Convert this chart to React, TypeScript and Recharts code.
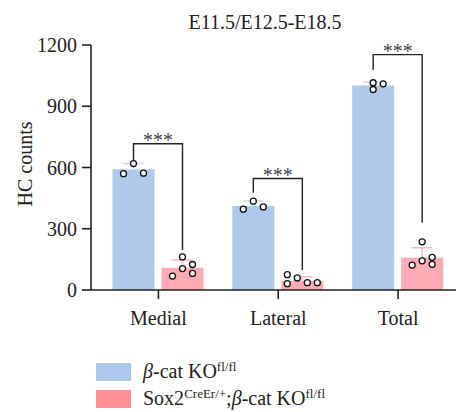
import { Bar, BarChart, Legend, XAxis, YAxis } from "recharts";

const CATEGORIES = ["Medial", "Lateral", "Total"];
const CTRL_MEAN = [591, 412, 1002];
const CTRL_SD = [28, 24, 17];
const MUT_MEAN = [109, 45, 158];
const MUT_SD = [38, 20, 49];
const CTRL_POINTS = [
  [619, 570, 572],
  [435, 396, 407],
  [1015, 982, 1010],
];
const MUT_POINTS = [
  [162, 125, 105, 81, 68],
  [75, 31, 59, 36, 36],
  [236, 122, 143, 160, 126],
];
const Y_TICKS = [0, 300, 600, 900, 1200];

// significance brackets (in HC counts): top line, left leg end, right leg end
const BRACKET_TOP = [716, 546, 1153];
const BRACKET_LEFT = [632, 476, 1079];
const BRACKET_RIGHT = [196, 98, 329];
const SIG = ["***", "***", "***"];

// scatter column slots per dot (prism style), 1 slot = DOT_STEP px
const CTRL_SLOTS = [
  [0, -1, 1],
  [0, -1, 1],
  [0, 0, 1],
];
const MUT_SLOTS = [
  [0, 1, 0, 1, -1],
  [-1.5, -1.5, -0.5, 0.5, 1.5],
  [0, -1, 0, 1, 1],
];

const DOT_STEP = 10;
const BAR_SIZE = 42;
const BAR_GAP = 7;
const FONT = "'Liberation Serif', 'Times New Roman', serif";
const INK = "#222";

const SERIES = {
  ctrl: { fill: "#afc9ea", cap: "#c8dbf3", legend: "#adc8eb" },
  mut: { fill: "#ffabb6", cap: "#ffb3bf", legend: "#ff8e98" },
};

const rows = CATEGORIES.map((name, i) => ({
  name,
  i,
  ctrl: CTRL_MEAN[i],
  mut: MUT_MEAN[i],
}));

const makeShape = (kind: "ctrl" | "mut") => (props: any) => {
  const { x, y, width, height, payload } = props;
  const i = payload.i;
  const mean = kind === "ctrl" ? CTRL_MEAN[i] : MUT_MEAN[i];
  const sd = kind === "ctrl" ? CTRL_SD[i] : MUT_SD[i];
  const pts = kind === "ctrl" ? CTRL_POINTS[i] : MUT_POINTS[i];
  const slots = kind === "ctrl" ? CTRL_SLOTS[i] : MUT_SLOTS[i];
  const s = SERIES[kind];
  // use the bar's own geometry as the y scale
  const per = height / mean;
  const base = y + height;
  const toY = (v: number) => base - v * per;
  const cx = x + width / 2;
  const yErr = toY(mean + sd);

  let bracket = null;
  if (kind === "mut") {
    const lx = cx - width - BAR_GAP;
    const top = toY(BRACKET_TOP[i]);
    bracket = (
      <g>
        <polyline
          points={`${lx},${toY(BRACKET_LEFT[i])} ${lx},${top} ${cx},${top} ${cx},${toY(BRACKET_RIGHT[i])}`}
          fill="none"
          stroke={INK}
          strokeWidth={1.4}
        />
        <text
          x={(lx + cx) / 2}
          y={top + 3}
          textAnchor="middle"
          fontFamily={FONT}
          fontSize={20}
          fill="#444"
        >
          {SIG[i]}
        </text>
      </g>
    );
  }

  return (
    <g>
      <rect x={x} y={y} width={width} height={height} fill={s.fill} />
      <line x1={cx} x2={cx} y1={y} y2={yErr} stroke={s.cap} strokeWidth={1.5} />
      <line x1={cx - 10} x2={cx + 10} y1={yErr} y2={yErr} stroke={s.cap} strokeWidth={1.5} />
      {pts.map((v, k) => (
        <circle
          key={k}
          cx={cx + slots[k] * DOT_STEP}
          cy={toY(v)}
          r={3}
          fill="#fff"
          stroke="#111"
          strokeWidth={1.3}
        />
      ))}
      {bracket}
    </g>
  );
};

const sup = { fontSize: 13, verticalAlign: "7px", lineHeight: 0 } as const;

const LEGEND_LABELS: Record<string, any> = {
  ctrl: (
    <>
      <i>β</i>-cat KO<sup style={sup}>fl/fl</sup>
    </>
  ),
  mut: (
    <>
      Sox2<sup style={sup}>CreEr/+</sup>;<i>β</i>-cat KO<sup style={sup}>fl/fl</sup>
    </>
  ),
};

const renderLegend = (props: any) => {
  const payload = props.payload || [];
  return (
    <div style={{ fontFamily: FONT, fontSize: 20, color: INK }}>
      {payload.map((p: any) => {
        const key = p.dataKey as "ctrl" | "mut";
        return (
          <div key={key} style={{ display: "flex", alignItems: "center", height: 27, whiteSpace: "nowrap" }}>
            <span
              style={{
                display: "inline-block",
                width: 35,
                height: 18,
                background: SERIES[key].legend,
                marginRight: 12,
              }}
            />
            <span style={{ lineHeight: "27px" }}>{LEGEND_LABELS[key]}</span>
          </div>
        );
      })}
    </div>
  );
};

const tickStyle = { fill: INK, fontSize: 20, fontFamily: FONT };

export default function App() {
  return (
    <div style={{ position: "absolute", left: 0, top: 0, width: 456, height: 412, background: "#fff" }}>
      <div
        style={{
          position: "absolute",
          left: 165,
          top: 12,
          width: 200,
          textAlign: "center",
          fontFamily: FONT,
          fontSize: 20,
          lineHeight: "20px",
          color: INK,
          whiteSpace: "nowrap",
        }}
      >
        E11.5/E12.5-E18.5
      </div>
      <BarChart
        width={456}
        height={412}
        data={rows}
        margin={{ top: 45, right: -2, bottom: 82, left: 0 }}
        barSize={BAR_SIZE}
        barGap={BAR_GAP}
      >
        <XAxis
          dataKey="name"
          height={40}
          padding={{ left: 7.5, right: 0 }}
          tick={tickStyle}
          tickSize={9}
          tickMargin={12}
          axisLine={{ stroke: INK, strokeWidth: 1.6 }}
          tickLine={{ stroke: INK, strokeWidth: 1.6 }}
          interval={0}
        />
        <YAxis
          width={91}
          domain={[0, 1200]}
          ticks={Y_TICKS}
          tick={tickStyle}
          tickSize={9}
          tickMargin={5}
          axisLine={{ stroke: INK, strokeWidth: 1.6 }}
          tickLine={{ stroke: INK, strokeWidth: 1.6 }}
          label={{
            content: () => (
              <text
                x={31.5}
                y={164}
                transform="rotate(-90 31.5 164)"
                textAnchor="middle"
                fontFamily={FONT}
                fontSize={20}
                fill={INK}
              >
                HC counts
              </text>
            ),
          }}
        />
        <Legend
          layout="vertical"
          align="center"
          verticalAlign="middle"
          wrapperStyle={{ left: 96, top: 358, width: "auto" }}
          content={renderLegend}
        />
        <Bar dataKey="ctrl" fill={SERIES.ctrl.fill} shape={makeShape("ctrl")} isAnimationActive={false} />
        <Bar dataKey="mut" fill={SERIES.mut.fill} shape={makeShape("mut")} isAnimationActive={false} />
      </BarChart>
    </div>
  );
}
